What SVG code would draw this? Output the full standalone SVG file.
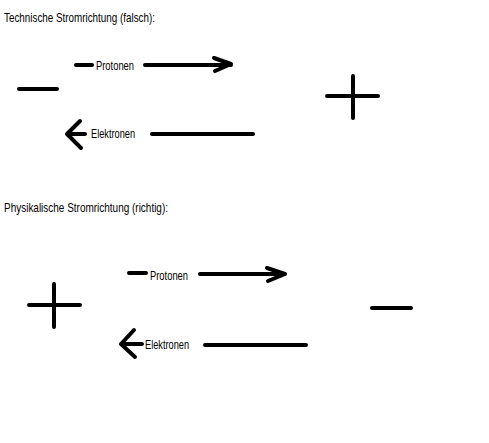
<svg xmlns="http://www.w3.org/2000/svg" width="489" height="443" viewBox="0 0 489 443">
<style>
.s{stroke:#000;stroke-width:4;stroke-linecap:round;stroke-linejoin:round;fill:none}
.t{font-family:"Liberation Sans","DejaVu Sans",sans-serif;fill:#000}
.h{font-size:13.5px}
.l{font-size:12.5px}
</style>
<rect width="489" height="443" fill="#fff"/>
<g id="title1"><text class="t h" x="4" y="22" textLength="151" lengthAdjust="spacingAndGlyphs">Technische Stromrichtung (falsch):</text></g>
<g id="title2"><text class="t h" x="4" y="212" textLength="164" lengthAdjust="spacingAndGlyphs">Physikalische Stromrichtung (richtig):</text></g>
<g id="minus1"><path class="s" d="M19 89H57"/></g>
<g id="plus1"><path class="s" d="M353 76V118M327 96H378"/></g>
<g id="plus2"><path class="s" d="M54 284V327M29 305H80"/></g>
<g id="minus2"><path class="s" d="M372 308H411"/></g>
<g id="label-protonen1"><text class="t l" x="96" y="70" textLength="38" lengthAdjust="spacingAndGlyphs">Protonen</text></g>
<g id="label-elektronen1"><text class="t l" x="91" y="138" textLength="44" lengthAdjust="spacingAndGlyphs">Elektronen</text></g>
<g id="label-protonen2"><text class="t l" x="150" y="280" textLength="38" lengthAdjust="spacingAndGlyphs">Protonen</text></g>
<g id="label-elektronen2"><text class="t l" x="145" y="349" textLength="44" lengthAdjust="spacingAndGlyphs">Elektronen</text></g>
<g id="connectors">
<path class="s" d="M76 65H92"/>
<path class="s" d="M145 65H231M214 58L231 64L215 71"/>
<path class="s" d="M80 121L67 134L81 148M67 134H85"/>
<path class="s" d="M152 134H253"/>
<path class="s" d="M129 273H146"/>
<path class="s" d="M200 274H285M267 268L285 274L268 281"/>
<path class="s" d="M134 330L121 344L135 357M121 344H142"/>
<path class="s" d="M205 345H306"/>
</g>
</svg>
